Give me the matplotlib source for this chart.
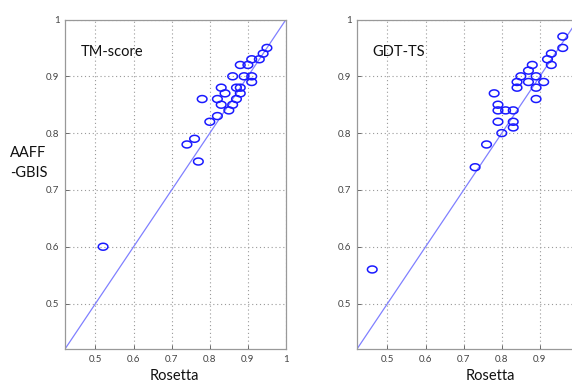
import numpy as np
import matplotlib
matplotlib.use("Agg")
import matplotlib.pyplot as plt
from matplotlib.path import Path

# TM-score panel
tm_rosetta = [0.95, 0.94, 0.93, 0.91, 0.90, 0.88, 0.86, 0.89, 0.91, 0.91,
              0.83, 0.87, 0.88, 0.84, 0.88, 0.78, 0.82, 0.87, 0.83, 0.86,
              0.85, 0.82, 0.80, 0.76, 0.74, 0.77, 0.52]
tm_aaff = [0.95, 0.94, 0.93, 0.93, 0.92, 0.92, 0.90, 0.90, 0.90, 0.89,
           0.88, 0.88, 0.88, 0.87, 0.87, 0.86, 0.86, 0.86, 0.85, 0.85,
           0.84, 0.83, 0.82, 0.79, 0.78, 0.75, 0.60]

# GDT-TS panel
gdt_rosetta = [0.96, 0.96, 0.93, 0.92, 0.93, 0.88, 0.87, 0.85, 0.89, 0.84,
               0.87, 0.91, 0.84, 0.89, 0.89, 0.78, 0.79, 0.79, 0.81, 0.83,
               0.79, 0.83, 0.83, 0.80, 0.76, 0.73, 0.46]
gdt_aaff = [0.97, 0.95, 0.94, 0.93, 0.92, 0.92, 0.91, 0.90, 0.90, 0.89,
            0.89, 0.89, 0.88, 0.88, 0.86, 0.87, 0.85, 0.84, 0.84, 0.84,
            0.82, 0.82, 0.81, 0.80, 0.78, 0.74, 0.56]

ticks = [0.5, 0.6, 0.7, 0.8, 0.9, 1.0]
tick_labels = ["0.5", "0.6", "0.7", "0.8", "0.9", "1"]
titles = ["TM-score", "GDT-TS"]

plt.rcParams['font.family'] = ['Lato', 'DejaVu Sans']

W, H = 572, 383
fig = plt.figure(figsize=(W / 100, H / 100), dpi=100)

t = np.linspace(0, 2 * np.pi, 60)
ell = Path(np.column_stack([np.cos(t), 0.72 * np.sin(t)]))

def make_ax(left_px):
    return fig.add_axes([left_px / W, (H - 349) / H, 221 / W, (349 - 19.5) / H])

axes = [make_ax(65), make_ax(357)]
data = [(tm_rosetta, tm_aaff), (gdt_rosetta, gdt_aaff)]

for i, (ax, (xs, ys), title) in enumerate(zip(axes, data, titles)):
    ax.set_xlim(0.42, 1.0)
    ax.set_ylim(0.42, 1.0)
    ax.plot([0.42, 1.0], [0.42, 1.0], color='#8080ff', lw=0.9, zorder=2)
    ax.scatter(xs, ys, marker=ell, s=48, facecolors='none',
               edgecolors='#1a1aff', linewidths=1.1, zorder=3, clip_on=False)
    if i == 0:
        ax.set_xticks(ticks)
        ax.set_xticklabels(tick_labels)
    else:
        ax.set_xticks(ticks[:-1])
        ax.set_xticklabels(tick_labels[:-1])
    ax.set_yticks(ticks)
    ax.set_yticklabels(tick_labels)
    ax.grid(True, linestyle=(0, (1, 2.5)), color='#999999', lw=0.8)
    ax.tick_params(direction='in', length=3, labelsize=7, colors='#555555',
                   labelcolor='#444444', width=0.6, pad=4)
    for s in ax.spines.values():
        s.set_color('#999999')
        s.set_linewidth(0.9)
    ax.text(0.07, 0.9, title, transform=ax.transAxes, fontsize=10.5,
            color='#111111', va='center', ha='left')

fig.text(174 / W, 1 - 376 / H, "Rosetta", ha='center', va='center', fontsize=10.5, color='#111111')
fig.text(490 / W, 1 - 376 / H, "Rosetta", ha='center', va='center', fontsize=10.5, color='#111111')
fig.text(10 / W, 1 - 163 / H, "AAFF\n-GBIS", ha='left', va='center', fontsize=10.5,
         color='#111111', linespacing=1.5)

fig.savefig("out.png", dpi=100)
